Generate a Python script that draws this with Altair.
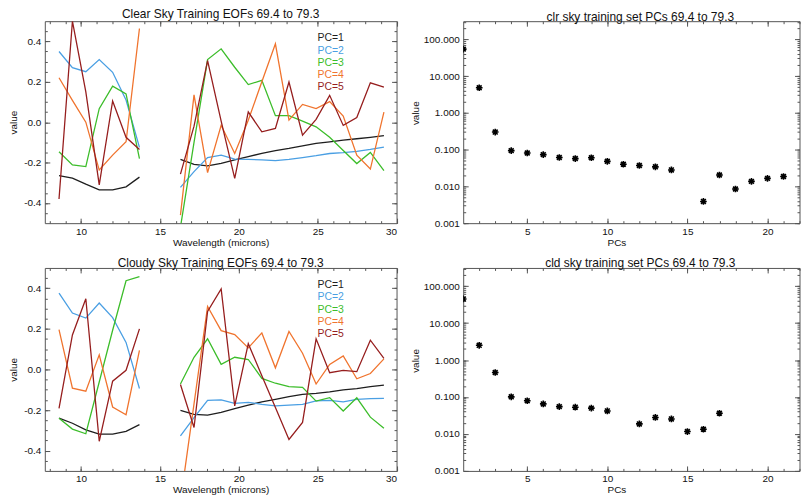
import altair as alt
import pandas as pd

FONT = "Liberation Sans"
AX = "#555555"
TXT = "#111111"

# ---------------- data ----------------
wl_seg1 = [8.6, 9.45, 10.3, 11.15, 12.0, 12.85, 13.7]
wl_seg2 = [16.3, 17.16, 18.02, 18.88, 19.74, 20.6, 21.46, 22.32, 23.18, 24.04,
           24.9, 25.76, 26.62, 27.48, 28.34, 29.2]

pc_labels = ["PC=1", "PC=2", "PC=3", "PC=4", "PC=5"]
pc_colors = ["#1e1e1e", "#4a9fe3", "#3cbd2a", "#f0742e", "#961e1e"]

clr_seg1 = [
    [-0.265, -0.277, -0.307, -0.335, -0.335, -0.320, -0.272],
    [0.350, 0.270, 0.250, 0.310, 0.247, 0.110, -0.125],
    [-0.146, -0.212, -0.220, 0.067, 0.178, 0.140, -0.180],
    [0.220, 0.108, 0.000, -0.237, -0.163, -0.097, 0.464],
    [-0.380, 0.500, 0.150, -0.310, 0.105, -0.075, -0.135],
]
clr_seg2 = [
    [-0.184, -0.209, -0.216, -0.204, -0.187, -0.171, -0.154, -0.141, -0.130, -0.117,
     -0.105, -0.097, -0.089, -0.082, -0.075, -0.067],
    [-0.323, -0.245, -0.175, -0.163, -0.183, -0.184, -0.187, -0.190, -0.184, -0.175,
     -0.166, -0.155, -0.151, -0.145, -0.135, -0.123],
    [-0.520, -0.100, 0.310, 0.363, 0.272, 0.186, 0.207, 0.032, 0.032, 0.005,
     -0.023, -0.075, -0.140, -0.205, -0.150, -0.240],
    [-0.460, 0.135, -0.250, -0.015, -0.155, 0.010, 0.200, 0.388, 0.010, 0.088,
     0.067, 0.102, 0.030, -0.163, -0.232, 0.050],
    [-0.257, -0.020, 0.305, 0.005, -0.278, 0.051, -0.048, -0.031, 0.199, -0.064,
     0.014, 0.133, -0.016, 0.023, 0.195, 0.174],
]
cld_seg1 = [
    [-0.240, -0.265, -0.298, -0.319, -0.319, -0.305, -0.272],
    [0.376, 0.278, 0.253, 0.327, 0.255, 0.133, -0.094],
    [-0.241, -0.294, -0.317, -0.062, 0.193, 0.437, 0.457],
    [0.196, -0.092, -0.107, 0.072, -0.185, -0.223, 0.094],
    [-0.192, 0.170, 0.348, -0.354, -0.058, -0.004, 0.200],
]
cld_seg2 = [
    [-0.202, -0.221, -0.225, -0.212, -0.193, -0.176, -0.160, -0.147, -0.134, -0.123,
     -0.118, -0.111, -0.101, -0.095, -0.085, -0.077],
    [-0.327, -0.237, -0.152, -0.150, -0.167, -0.162, -0.172, -0.180, -0.176, -0.172,
     -0.155, -0.152, -0.160, -0.147, -0.144, -0.143],
    [-0.072, 0.060, 0.151, 0.025, 0.060, 0.049, -0.044, -0.068, -0.085, -0.088,
     -0.156, -0.139, -0.205, -0.140, -0.235, -0.290],
    [-0.650, -0.170, 0.310, 0.191, 0.172, 0.106, 0.180, 0.008, 0.187, 0.080,
     -0.072, 0.025, 0.067, -0.046, -0.020, 0.052],
    [-0.074, -0.286, 0.286, 0.397, -0.180, 0.127, -0.031, -0.188, -0.345, -0.261,
     0.151, -0.016, -0.005, -0.011, 0.144, 0.054],
]

clr_pc_idx = [1, 2, 3, 4, 5, 6, 7, 8, 9, 10, 11, 12, 13, 14, 16, 17, 18, 19, 20, 21]
clr_pc_val = [54.0, 4.8, 0.30, 0.094, 0.081, 0.073, 0.061, 0.057, 0.060, 0.048,
              0.040, 0.037, 0.034, 0.028, 0.0039, 0.0204, 0.0085, 0.0137, 0.0165, 0.0186]
cld_pc_idx = [1, 2, 3, 4, 5, 6, 7, 8, 9, 10, 12, 13, 14, 15, 16, 17]
cld_pc_val = [45.0, 2.5, 0.46, 0.101, 0.079, 0.065, 0.055, 0.053, 0.050, 0.042,
              0.0187, 0.028, 0.0255, 0.0116, 0.0134, 0.0364]

# axis ticks / labels
eof_x_major = [10, 15, 20, 25, 30]
eof_x_minor = list(range(8, 31))
eof_y_major = [-0.4, -0.2, 0.0, 0.2, 0.4]
eof_y_minor = [-0.45, -0.4, -0.35, -0.3, -0.25, -0.2, -0.15, -0.1, -0.05, 0.0,
               0.05, 0.1, 0.15, 0.2, 0.25, 0.3, 0.35, 0.4, 0.45]
pc_x_major = [5, 10, 15, 20]
pc_x_minor = list(range(2, 23))
pc_y_major = [0.001, 0.01, 0.1, 1, 10, 100]
pc_y_minor = [m * 10.0 ** e for e in range(-3, 3) for m in range(1, 10)
              if m * 10.0 ** e <= 300]

EOF_W, PC_W = 353.5, 338
H_TOP, H_BOT = 203, 204


def eof_frame(seg1, seg2):
    rows = []
    for i, lab in enumerate(pc_labels):
        for w, v in zip(wl_seg1, seg1[i]):
            rows.append({"pc": lab, "seg": "a", "wl": w, "val": v})
        for w, v in zip(wl_seg2, seg2[i]):
            rows.append({"pc": lab, "seg": "b", "wl": w, "val": v})
    return pd.DataFrame(rows)


def tick_layers(df, xf, yf, xs, ys, W, H, xmaj, xmin, ymaj, ymin):
    layers = []
    for vx, vy, size in [(xmaj, ymaj, 5), (xmin, ymin, 2.5)]:
        for far in (False, True):
            layers.append(
                alt.Chart(df).mark_point(opacity=0).encode(
                    x=alt.X(f"{xf}:Q", scale=xs, axis=alt.Axis(
                        orient="bottom" if far else "top", offset=-H, values=vx,
                        labels=False, title=None, tickSize=size, domain=False,
                        grid=False, tickColor=AX, tickWidth=1)),
                    y=alt.Y(f"{yf}:Q", scale=ys, axis=alt.Axis(
                        orient="left" if far else "right", offset=-W, values=vy,
                        labels=False, title=None, tickSize=size, domain=False,
                        grid=False, tickColor=AX, tickWidth=1)),
                )
            )
    return layers


color_scale = alt.Scale(domain=pc_labels, range=pc_colors)
Y_LABEL_EXPR = "datum.value < 0 ? '-' + format(-datum.value, '.1f') : format(datum.value, '.1f')"


def eof_panel(seg1, seg2, title, H):
    df = eof_frame(seg1, seg2)
    xs = alt.Scale(domain=[7.7, 30], nice=False, zero=False)
    ys = alt.Scale(domain=[-0.5, 0.5], nice=False, zero=False)
    lines = alt.Chart(df).mark_line(clip=True, strokeWidth=1.3).encode(
        x=alt.X("wl:Q", scale=xs, axis=alt.Axis(
            values=eof_x_major, ticks=False, domain=False, grid=False, labelPadding=3,
            title="Wavelength (microns)", titlePadding=1, format="d")),
        y=alt.Y("val:Q", scale=ys, axis=alt.Axis(
            values=eof_y_major, ticks=False, domain=False, grid=False, labelPadding=4,
            labelExpr=Y_LABEL_EXPR, title="value", titlePadding=5)),
        color=alt.Color("pc:N", scale=color_scale, legend=None),
        detail="seg:N",
    )
    leg_df = pd.DataFrame({"pc": pc_labels, "rank": list(range(len(pc_labels)))})
    legend = alt.Chart(leg_df).mark_text(
        align="left", baseline="middle", font=FONT, fontSize=10.5).encode(
        x=alt.value(274),
        y=alt.Y("rank:Q", scale=alt.Scale(domain=[0, 4], range=[17.3, 66.3]), axis=None),
        text="pc:N",
        color=alt.Color("pc:N", scale=color_scale, legend=None),
    )
    layers = [lines, legend] + tick_layers(df, "wl", "val", xs, ys, EOF_W, H,
                                           eof_x_major, eof_x_minor, eof_y_major, eof_y_minor)
    return alt.layer(*layers).resolve_scale(x="independent", y="independent").properties(
        width=EOF_W, height=H,
        title=alt.TitleParams(title, fontSize=12, font=FONT, fontWeight="normal",
                              color=TXT, offset=-3))


ASTER = "M-1,0L1,0M0,-1L0,1M-0.72,-0.72L0.72,0.72M-0.72,0.72L0.72,-0.72"


def pc_panel(idx, vals, title, H, title_y):
    df = pd.DataFrame({"pc": idx, "val": vals})
    xs = alt.Scale(domain=[1, 22], nice=False, zero=False)
    ys = alt.Scale(type="log", domain=[0.001, 310], nice=False)
    pts = alt.Chart(df).mark_point(
        shape=ASTER, size=45, filled=False, stroke="black", strokeWidth=1.6,
        opacity=1, clip=True).encode(
        x=alt.X("pc:Q", scale=xs, axis=alt.Axis(
            values=pc_x_major, ticks=False, domain=False, grid=False, labelPadding=3,
            title="PCs", titlePadding=1, titleX=154, format="d")),
        y=alt.Y("val:Q", scale=ys, axis=alt.Axis(
            values=pc_y_major, ticks=False, domain=False, grid=False, labelPadding=4,
            format=".3f", title="value", titlePadding=3, titleY=title_y)),
    )
    layers = [pts] + tick_layers(df, "pc", "val", xs, ys, PC_W, H,
                                 pc_x_major, pc_x_minor, pc_y_major, pc_y_minor)
    return alt.layer(*layers).resolve_scale(x="independent", y="independent").properties(
        width=PC_W, height=H,
        title=alt.TitleParams(title, fontSize=12, font=FONT, fontWeight="normal",
                              color=TXT, offset=-3, dx=9))


chart = alt.concat(
    eof_panel(clr_seg1, clr_seg2, "Clear Sky Training EOFs 69.4 to 79.3", H_TOP),
    pc_panel(clr_pc_idx, clr_pc_val, "clr sky training set PCs 69.4 to 79.3", H_TOP, 92),
    eof_panel(cld_seg1, cld_seg2, "Cloudy Sky Training EOFs 69.4 to 79.3", H_BOT),
    pc_panel(cld_pc_idx, cld_pc_val, "cld sky training set PCs 69.4 to 79.3", H_BOT, 93),
    columns=2,
    spacing=alt.RowColnumber(column=66.5, row=45),
    bounds="flush",
).properties(
    padding={"top": -2, "left": 0, "right": 0, "bottom": 0}, background="white"
).configure_view(stroke=AX, strokeWidth=1).configure_axis(
    labelFont=FONT, titleFont=FONT, labelFontSize=10, titleFontSize=10,
    labelColor=TXT, titleColor=TXT, titleFontWeight="normal"
)

chart.save("out.html", embed_options={"renderer": "svg", "actions": False})
